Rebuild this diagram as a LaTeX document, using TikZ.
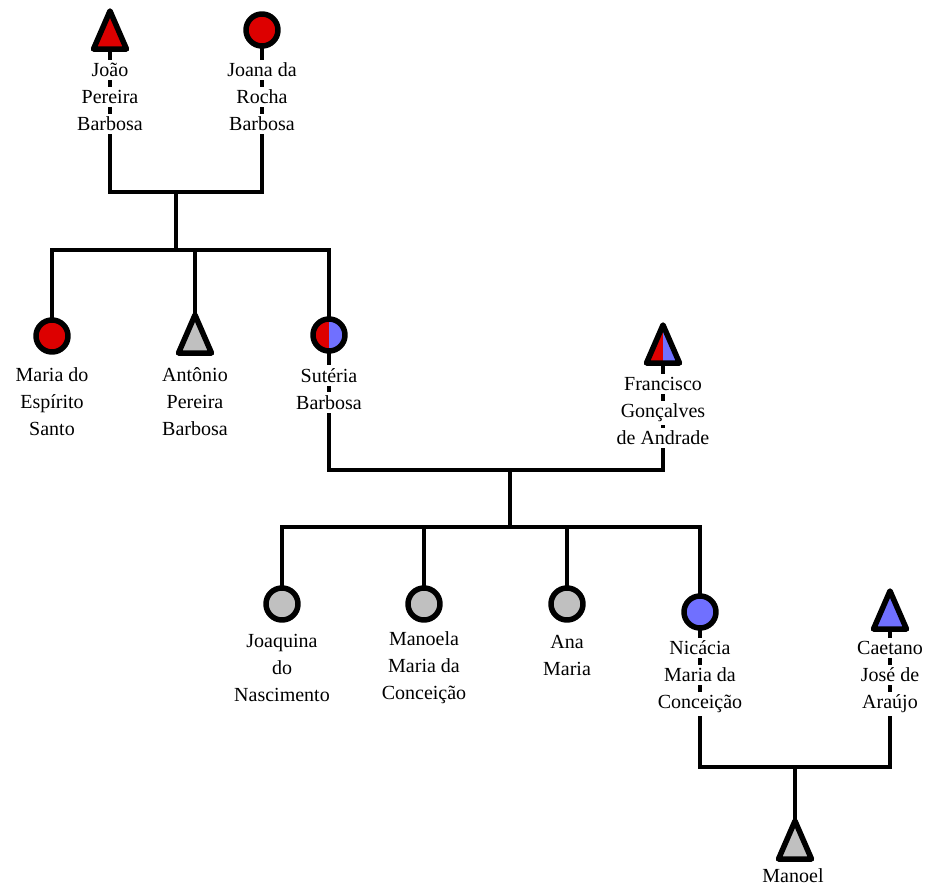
\documentclass[tikz,border=0pt]{standalone}
\usepackage{fontspec}
\setmainfont{Liberation Serif}
\newfontfamily\kinfont{Liberation Serif}
\usetikzlibrary{backgrounds}
\definecolor{kinred}{HTML}{DD0000}
\definecolor{kinblue}{HTML}{7070FF}
\definecolor{kingrey}{HTML}{C0C0C0}
\newcommand{\wl}[1]{{\setlength{\fboxsep}{3pt}\colorbox{white}{#1}}}

\tikzset{
  link/.style={line width=4.5pt},
  symb/.style={line width=5.5pt,line join=round},
  who/.style={align=center,inner sep=0pt,font=\kinfont\fontsize{20}{27}\selectfont},
  pics/female/.style={code={
    \draw[symb,fill=#1] (0pt,0pt) circle (16pt);
    \coordinate (-c) at (0pt,0pt);}},
  pics/male/.style={code={
    \draw[symb,fill=#1] (0pt,19pt) -- (16.5pt,-19pt) -- (-16.5pt,-19pt) -- cycle;
    \coordinate (-c) at (0pt,0pt);}},
  pics/femalehalf/.style={code={
    \fill[kinred] (0pt,16pt) arc[start angle=90,end angle=270,radius=16pt] -- cycle;
    \fill[kinblue] (0pt,-16pt) arc[start angle=-90,end angle=90,radius=16pt] -- cycle;
    \draw[symb] (0pt,0pt) circle (16pt);
    \coordinate (-c) at (0pt,0pt);}},
  pics/malehalf/.style={code={
    \fill[kinred] (0pt,19pt) -- (-16.5pt,-19pt) -- (0pt,-19pt) -- cycle;
    \fill[kinblue] (0pt,19pt) -- (16.5pt,-19pt) -- (0pt,-19pt) -- cycle;
    \draw[symb] (0pt,19pt) -- (16.5pt,-19pt) -- (-16.5pt,-19pt) -- cycle;
    \coordinate (-c) at (0pt,0pt);}},
}

\begin{document}
\begin{tikzpicture}[x=1pt,y=-1pt]
            \useasboundingbox (0,0) rectangle (929,889);

            % first generation
            \pic (jp) at (110,30) {male=kinred};
            \pic (jr) at (262,30) {female=kinred};
            \node[who] (jp-t) at (110,97) {\wl{João}\\\wl{Pereira}\\\wl{Barbosa}};
            \node[who] (jr-t) at (262,97) {\wl{Joana da}\\\wl{Rocha}\\\wl{Barbosa}};

            % second generation
            \pic (ms) at (52,336) {female=kinred};
            \pic (ap) at (195,334) {male=kingrey};
            \pic (sb) at (329,335) {femalehalf};
            \pic (fg) at (663,344) {malehalf};
            \node[who] (ms-t) at (52,402) {\wl{Maria do}\\\wl{Espírito}\\\wl{Santo}};
            \node[who] (ap-t) at (195,402) {\wl{Antônio}\\\wl{Pereira}\\\wl{Barbosa}};
            \node[who] (sb-t) at (329,389) {\wl{Sutéria}\\\wl{Barbosa}};
            \node[who] (fg-t) at (663,411) {\wl{Francisco}\\\wl{Gonçalves}\\\wl{de Andrade}};

            % third generation
            \pic (jn) at (282,604) {female=kingrey};
            \pic (mm) at (424,604) {female=kingrey};
            \pic (am) at (567,604) {female=kingrey};
            \pic (nm) at (700,612) {female=kinblue};
            \pic (cj) at (890,610) {male=kinblue};
            \node[who] (jn-t) at (282,668) {\wl{Joaquina}\\\wl{do}\\\wl{Nascimento}};
            \node[who] (mm-t) at (424,668) {\wl{Manoela}\\\wl{Maria da}\\\wl{Conceição}};
            \node[who] (am-t) at (567,655) {\wl{Ana}\\\wl{Maria}};
            \node[who] (nm-t) at (700,677) {\wl{Nicácia}\\\wl{Maria da}\\\wl{Conceição}};
            \node[who] (cj-t) at (890,677) {\wl{Caetano}\\\wl{José de}\\\wl{Araújo}};

            % fourth generation
            \pic (mn) at (795,840) {male=kingrey};
            \node[who] (mn-t) at (793,876) {\wl{Manoel}};

            \coordinate (u1) at (176,192);
            \coordinate (s1) at (176,250);
            \coordinate (u2) at (510,470);
            \coordinate (s2) at (510,527);
            \coordinate (u3) at (795,767);

            % Background
            \begin{scope}[on background layer]
                \draw[link] (jp-c) |- (u1) -| (jr-c);
                \draw[link] (u1) -- (s1);
                \draw[link] (ms-c) |- (s1) -| (sb-c);
                \draw[link] (ap-c) |- (s1);
                \draw[link] (sb-c) |- (u2) -| (fg-c);
                \draw[link] (u2) -- (s2);
                \draw[link] (jn-c) |- (s2) -| (nm-c);
                \draw[link] (mm-c) |- (s2);
                \draw[link] (am-c) |- (s2);
                \draw[link] (nm-c) |- (u3) -| (cj-c);
                \draw[link] (u3) -- (mn-c);
            \end{scope}
\end{tikzpicture}
\end{document}
